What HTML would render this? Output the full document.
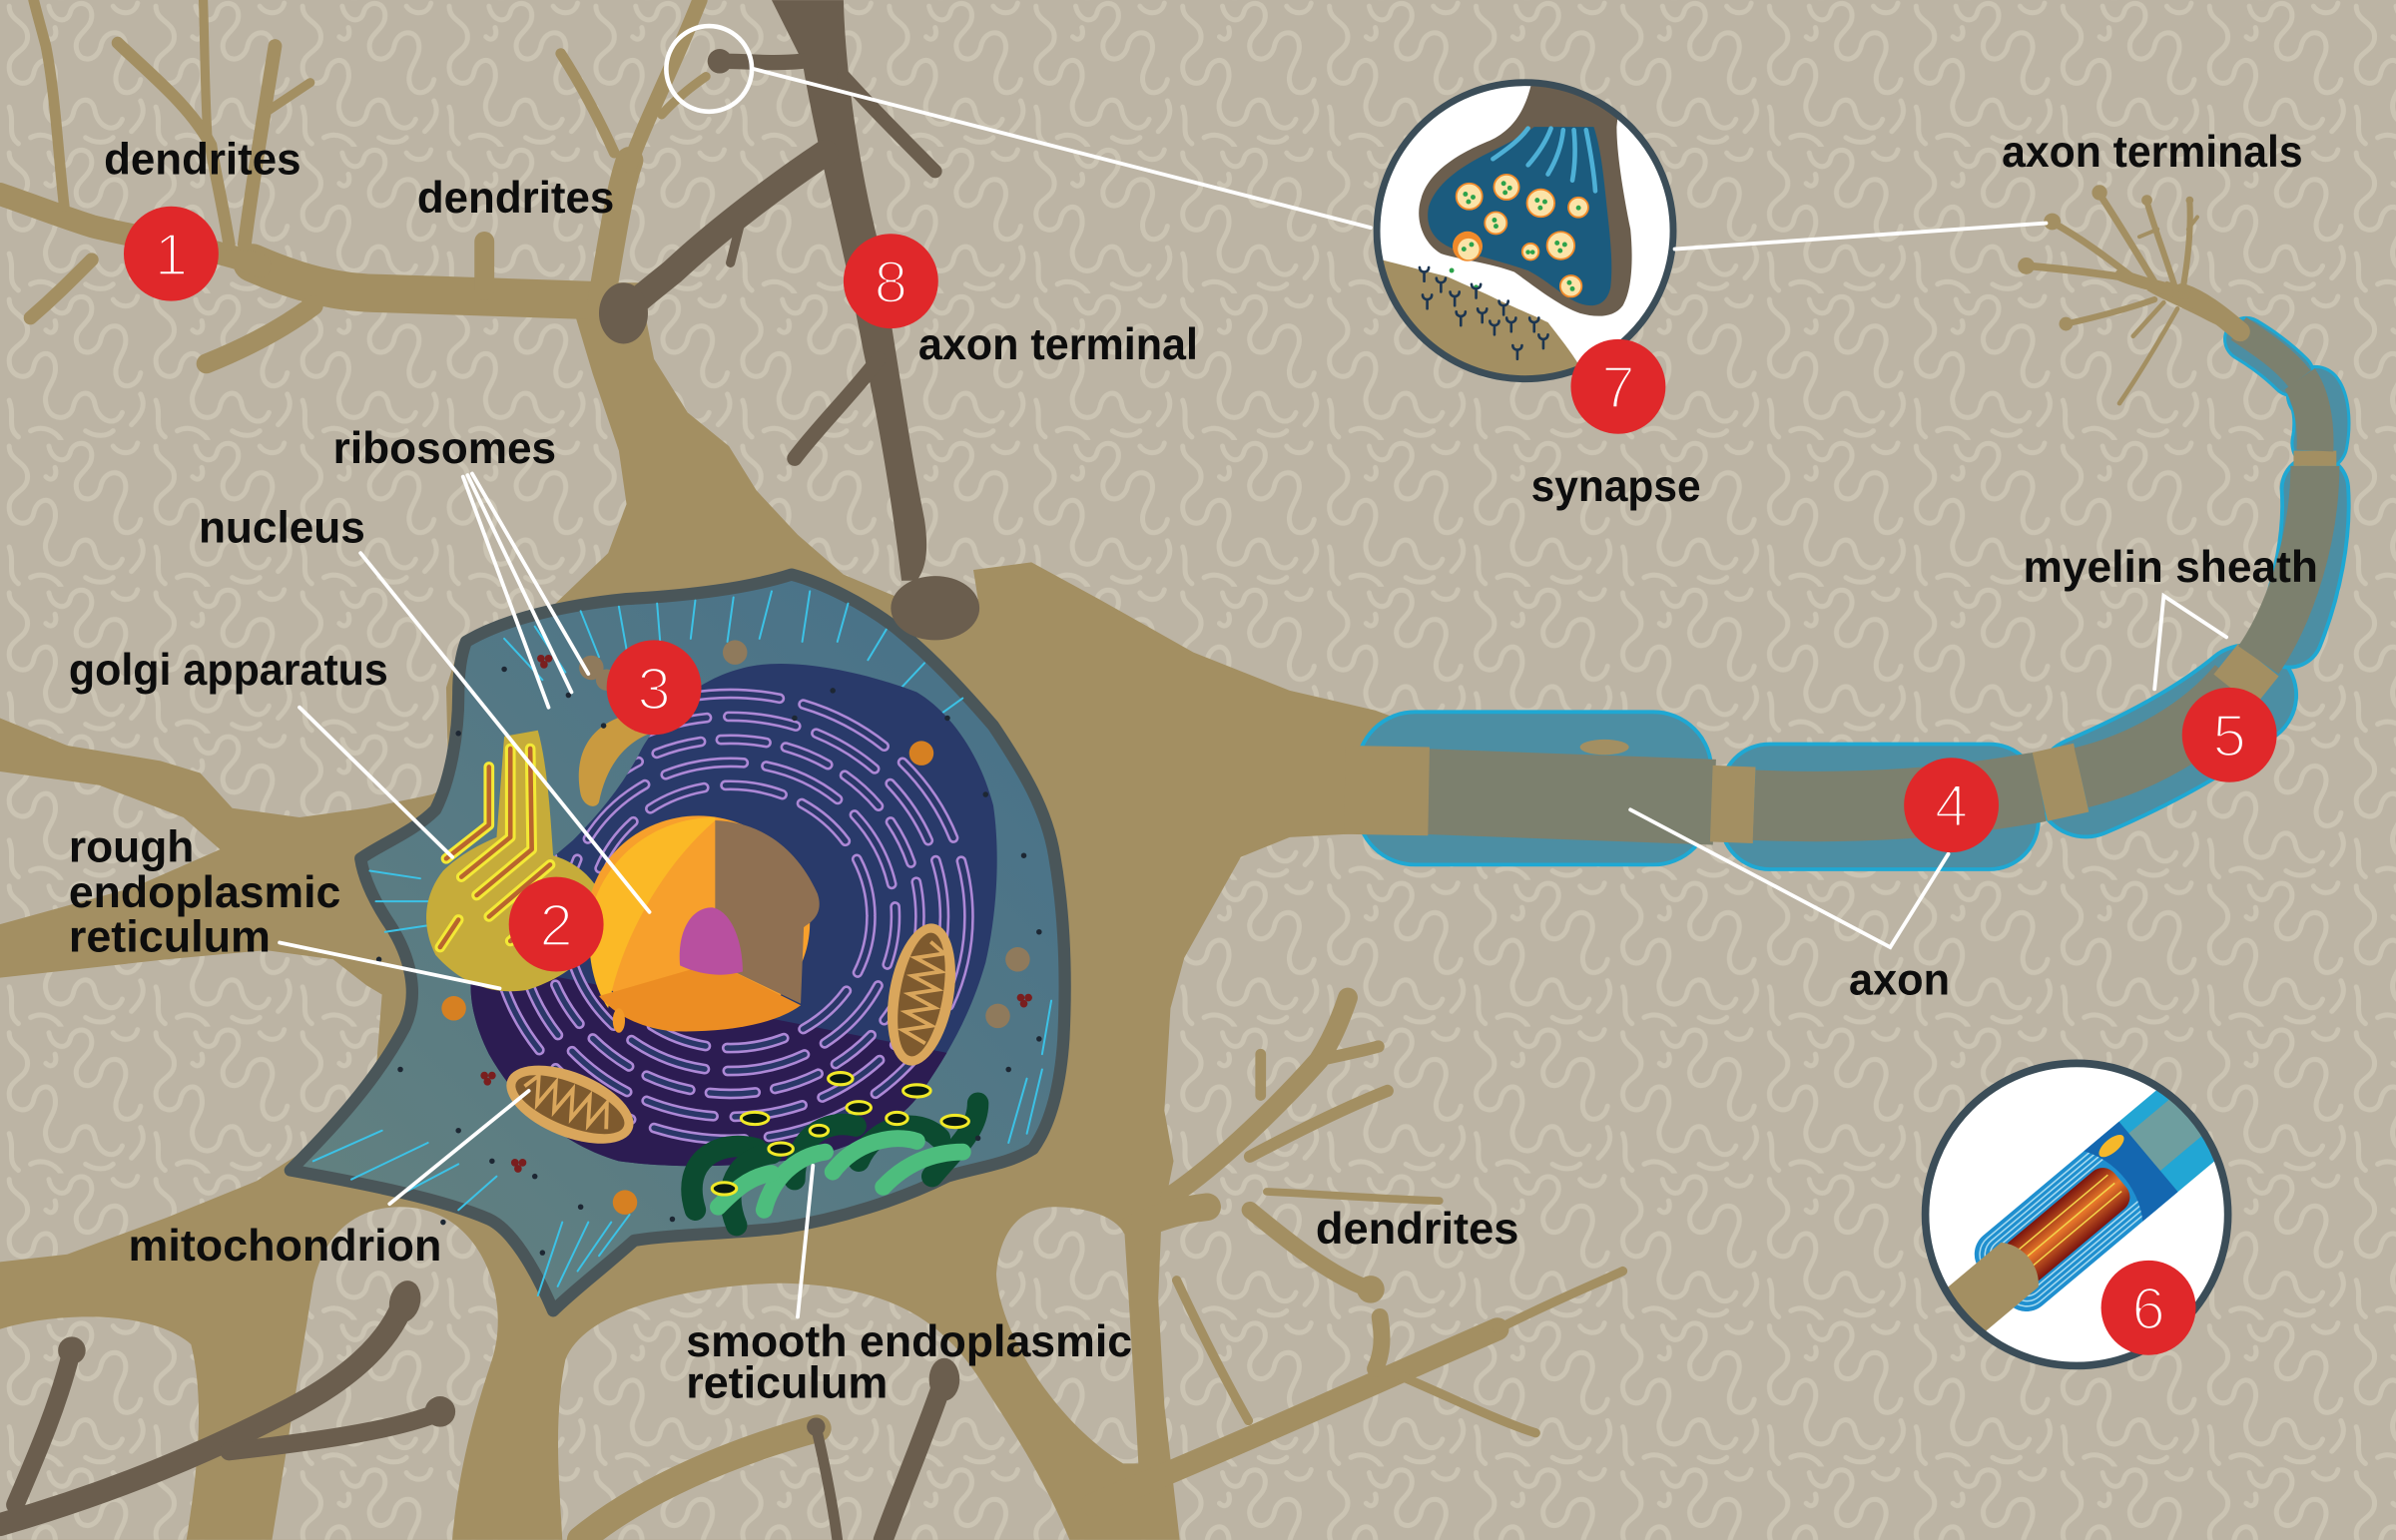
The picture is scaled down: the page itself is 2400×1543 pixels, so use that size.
<!DOCTYPE html>
<html><head><meta charset="utf-8"><style>
html,body{margin:0;padding:0;background:#bdb5a5;}
svg{display:block;}
text{font-family:"Liberation Sans",sans-serif;}
</style></head><body>
<svg width="2400" height="1543" viewBox="0 0 1568 1008" xmlns="http://www.w3.org/2000/svg">
<defs>
<pattern id="sq" width="96" height="96" patternUnits="userSpaceOnUse">
<rect width="96" height="96" fill="#bcb4a4"/>
<g fill="none" stroke="#cbc4b3" stroke-width="3.3" stroke-linecap="round">
<path d="M6,4 C6,14 18,14 18,24 C18,34 6,34 6,44 C6,56 20,58 22,48 C24,38 34,36 36,46 C38,58 28,62 30,72 C32,84 46,84 48,74 C50,64 60,62 62,72 C64,84 76,88 80,78"/>
<path d="M32,4 C34,14 44,16 46,8 C48,0 60,0 60,10 C60,20 48,22 50,32 C52,42 64,40 66,30 C68,20 80,18 82,28 C84,38 74,44 76,54 C78,64 90,62 92,52"/>
<path d="M74,4 C78,10 88,10 90,2"/>
<path d="M6,70 C10,80 4,88 12,94"/>
<path d="M20,90 C28,86 36,90 40,96"/>
<path d="M56,90 C62,94 70,94 74,90"/>
<path d="M86,86 C92,80 96,74 92,66"/>
<path d="M30,24 C34,28 38,24 36,18"/>
</g>
</pattern>
<linearGradient id="cellg" x1="1" y1="0" x2="0" y2="1">
<stop offset="0" stop-color="#45708a"/><stop offset="1" stop-color="#65827f"/>
</linearGradient>
<linearGradient id="redcore" x1="0" y1="0" x2="0" y2="1">
<stop offset="0" stop-color="#7a140e"/><stop offset="0.5" stop-color="#e8782a"/><stop offset="1" stop-color="#7a140e"/>
</linearGradient>
<path id="navy" d="M487,437 C515,430 560,438 600,453 C620,465 640,490 650,527 C655,560 652,600 645,630 C635,665 620,690 605,712 C590,735 560,752 525,758 C490,764 440,765 405,760 C370,750 340,725 320,690 C305,660 305,635 315,615 C325,595 345,575 375,550 C395,530 410,510 420,490 C435,465 455,445 487,437 Z"/>
<clipPath id="navyClip"><use href="#navy"/></clipPath>
<clipPath id="lowClip"><path d="M290,625 L650,695 L700,820 L290,820 Z"/></clipPath>
<clipPath id="c7"><circle cx="998" cy="151" r="97"/></clipPath>
<clipPath id="c6"><circle cx="1359" cy="795" r="99"/></clipPath>
</defs>

<rect width="1568" height="1008" fill="url(#sq)"/>

<!-- SOMA tan -->
<path fill="#a38f62" d="M370,185 L418,185 L428,235 L450,270 L477,292 L495,321 L522,350 L552,376 L590,392 L640,392 L637,373 L675,368 L719,392 L781,427 L844,452 L900,465 L935,478 L935,548 L900,545 L844,548 L812,561 L794,593 L775,627 L766,660 L762,727 L768,760 L760,800 L758,850 L762,920 L772,1008 L0,1008 L0,826 L44,821 L109,797 L168,773 L212,745 L246,702 L250,651 L240,645 L218,628 L174,622 L109,628 L0,640 L0,605 L87,581 L144,556 L120,535 L65,514 L0,505 L0,470 L44,488 L105,498 L131,506 L152,529 L196,535 L240,529 L283,520 L298,512 L293,490 L292,450 L300,425 L350,408 L398,362 L410,330 L405,295 L388,245 Z"/>

<!-- tan dendrites -->
<g fill="none" stroke="#a38f62" stroke-linecap="round" stroke-linejoin="round">
<path d="M400,197 C350,195 300,194 250,192 C220,192 195,185 165,172" stroke-width="25"/>
<path d="M170,174 C140,162 100,158 60,148 C35,140 15,132 0,127" stroke-width="15"/>
<path d="M317,190 L317,158" stroke-width="13"/>
<path d="M160,160 C165,120 172,80 180,30" stroke-width="9"/>
<path d="M176,72 L203,54" stroke-width="6"/>
<path d="M150,160 C145,130 140,110 138,95 C125,70 100,50 77,28" stroke-width="8"/>
<path d="M136,92 C134,60 134,30 133,0" stroke-width="6"/>
<path d="M42,135 C38,100 36,60 30,30 C26,15 24,8 22,0" stroke-width="7"/>
<path d="M60,170 C45,185 35,195 20,208" stroke-width="9"/>
<path d="M205,200 C185,215 160,228 135,238" stroke-width="13"/>
<path d="M393,200 C400,160 405,125 412,105" stroke-width="18"/>
<path d="M412,108 C422,80 440,45 458,0" stroke-width="10"/>
<path d="M402,100 C393,80 380,55 367,35" stroke-width="7"/>
<path d="M433,75 C445,62 455,55 462,50" stroke-width="6"/>
<path d="M766,783 C800,760 840,720 863,694 C872,680 878,665 882,653" stroke-width="13"/>
<path d="M863,694 C880,690 892,688 902,685" stroke-width="8"/>
<path d="M818,757 C850,740 880,725 908,714" stroke-width="8"/>
<path d="M829,780 C870,782 910,785 942,786" stroke-width="5"/>
<path d="M818,792 C840,810 870,835 897,844" stroke-width="11"/>
<path d="M825,717 L825,690" stroke-width="7"/>
<path d="M715,985 C800,950 900,905 980,870" stroke-width="15"/>
<path d="M980,870 C1020,850 1045,840 1062,832" stroke-width="6"/>
<path d="M900,896 C905,885 905,875 903,862" stroke-width="11"/>
<path d="M915,900 C950,915 980,930 1005,938" stroke-width="6"/>
<path d="M770,838 C785,870 800,900 817,930" stroke-width="6"/>
<path d="M790,790 C770,792 745,800 730,812" stroke-width="18"/>
</g>
<circle cx="897" cy="844" r="9" fill="#a38f62"/>

<!-- background holes -->
<g fill="url(#sq)">
<path d="M0,870 C40,858 100,858 125,880 C135,920 128,970 122,1008 L0,1008 Z"/>
<path d="M262,790 C232,790 212,808 205,840 L178,1008 L296,1008 C300,960 312,920 322,890 C335,850 315,790 262,790 Z"/>
<path d="M513,840 C470,840 385,852 370,890 C362,930 366,970 368,1008 L700,1008 C680,960 655,925 642,904 C620,870 590,842 513,840 Z"/>
<path d="M690,790 C668,790 654,806 652,834 C654,872 690,930 735,958 L745,958 C742,900 738,840 736,808 C730,795 708,790 690,790 Z"/>
</g>
<path d="M380,1008 C420,975 480,950 535,935" fill="none" stroke="#a38f62" stroke-width="18" stroke-linecap="round"/>

<!-- dark brown bottom -->
<g fill="none" stroke="#6b5e4e" stroke-linecap="round">
<path d="M265,850 C255,880 225,905 185,925 C140,948 80,975 0,998" stroke-width="15"/>
<path d="M286,925 C260,935 220,942 150,950" stroke-width="12"/>
<path d="M47,884 C38,920 25,950 10,985" stroke-width="12"/>
<path d="M618,902 C605,940 590,975 578,1008" stroke-width="13"/>
<path d="M534,934 C540,960 545,985 548,1008" stroke-width="7"/>
</g>
<g fill="#6b5e4e">
<ellipse cx="265" cy="852" rx="10" ry="14" transform="rotate(15 265 852)"/>
<circle cx="288" cy="924" r="10"/>
<circle cx="47" cy="884" r="9"/>
<ellipse cx="618" cy="903" rx="10" ry="14"/>
<circle cx="534" cy="934" r="6"/>
</g>

<!-- CELL interior -->
<path d="M305,420 C330,405 370,396 410,392 C450,390 490,385 518,376 C540,382 565,395 585,410 C610,430 630,452 650,475 C670,505 685,530 690,560 C697,600 698,640 696,680 C694,710 688,735 676,752 C660,762 640,764 620,770 C590,785 550,798 510,804 C470,808 440,808 415,812 C395,830 375,845 362,858 C350,830 335,805 320,798 C290,785 240,775 190,766 C212,744 245,710 265,672 C275,650 268,625 255,605 C245,590 238,575 236,562 C250,552 270,545 285,530 C295,510 300,480 300,455 C300,440 302,428 305,420 Z" fill="url(#cellg)" stroke="#4a5659" stroke-width="8" stroke-linejoin="round"/>

<!-- cyan lines -->
<g stroke="#3cc2e6" stroke-width="1.3" fill="none" stroke-linecap="round">
<path d="M330,418 L355,445"/><path d="M350,410 L370,440"/><path d="M380,400 L392,430"/><path d="M405,397 L410,425"/><path d="M430,395 L432,420"/><path d="M455,393 L452,418"/><path d="M480,391 L476,420"/><path d="M505,387 L497,418"/><path d="M530,387 L525,420"/><path d="M555,395 L548,420"/><path d="M580,412 L568,432"/><path d="M605,434 L590,450"/><path d="M630,457 L612,470"/>
<path d="M242,570 L275,575"/><path d="M246,590 L280,590"/><path d="M252,610 L285,605"/>
<path d="M205,760 L250,740"/><path d="M230,772 L280,748"/><path d="M262,782 L300,762"/><path d="M300,792 L325,770"/>
<path d="M352,848 L368,800"/><path d="M365,842 L385,800"/><path d="M378,832 L400,800"/><path d="M392,822 L412,795"/>
<path d="M672,742 L682,700"/><path d="M660,748 L672,706"/><path d="M682,690 L688,655"/>
</g>

<!-- navy ER region -->
<use href="#navy" fill="#293a6a"/>
<g clip-path="url(#navyClip)">
<rect x="290" y="600" width="420" height="220" fill="#2c1c52" clip-path="url(#lowClip)"/>
<g fill="none" stroke-linecap="round">
<g stroke="#ad88d6" stroke-width="7">
<ellipse cx="478" cy="600" rx="92" ry="86" stroke-dasharray="38 14"/>
<ellipse cx="478" cy="600" rx="108" ry="101" stroke-dasharray="52 15" stroke-dashoffset="20"/>
<ellipse cx="478" cy="600" rx="124" ry="116" stroke-dasharray="30 13"/>
<ellipse cx="478" cy="600" rx="140" ry="131" stroke-dasharray="45 14" stroke-dashoffset="12"/>
<ellipse cx="478" cy="600" rx="156" ry="146" stroke-dasharray="60 16"/>
</g>
<g stroke="#2a3768" stroke-width="3.6">
<ellipse cx="478" cy="600" rx="92" ry="86" stroke-dasharray="38 14"/>
<ellipse cx="478" cy="600" rx="108" ry="101" stroke-dasharray="52 15" stroke-dashoffset="20"/>
<ellipse cx="478" cy="600" rx="124" ry="116" stroke-dasharray="30 13"/>
<ellipse cx="478" cy="600" rx="140" ry="131" stroke-dasharray="45 14" stroke-dashoffset="12"/>
<ellipse cx="478" cy="600" rx="156" ry="146" stroke-dasharray="60 16"/>
</g>
</g>
</g>

<!-- golgi -->
<path d="M330,482 L352,478 C358,500 360,530 362,560 C380,565 395,580 398,600 C390,625 370,640 345,648 C320,652 300,642 285,625 C275,605 278,585 290,570 C300,560 315,552 325,548 Z" fill="#c6ac3a"/>
<g fill="none" stroke-linecap="round" stroke-linejoin="round">
<g stroke="#f3e936" stroke-width="7">
<path d="M334,490 L334,548 L302,574"/><path d="M347,490 L348,556 L312,586"/><path d="M320,502 L320,540 L292,562"/><path d="M360,566 L320,600"/><path d="M374,584 L334,616"/><path d="M300,602 L288,620"/>
</g>
<g stroke="#b8652e" stroke-width="3">
<path d="M334,490 L334,548 L302,574"/><path d="M347,490 L348,556 L312,586"/><path d="M320,502 L320,540 L292,562"/><path d="M360,566 L320,600"/><path d="M374,584 L334,616"/><path d="M300,602 L288,620"/>
</g>
</g>

<!-- orange crescent -->
<path d="M380,520 C375,495 385,475 410,468 C420,466 430,470 432,478 C415,482 398,495 392,525 C390,530 382,528 380,520 Z" fill="#c99a40"/>

<!-- nucleus -->
<ellipse cx="457" cy="604" rx="73" ry="70" fill="#f7a02c"/>
<path d="M468,535 C430,535 395,560 386,600 C384,625 388,645 398,660 C405,620 430,570 468,537 Z" fill="#fbb926"/>
<path d="M392,652 L468,630 L524,658 C505,672 470,676 440,675 C420,673 403,665 392,652 Z" fill="#ec8d23"/>
<path d="M468,537 C495,538 520,552 535,585 C540,600 528,605 526,607 L524,657 L468,630 Z" fill="#8f7052"/>
<path d="M445,632 C443,610 452,594 466,594 C478,596 486,615 486,636 C472,640 458,638 445,632 Z" fill="#b8509f"/>
<ellipse cx="405" cy="668" rx="4" ry="8" fill="#f29a28"/>

<!-- mitochondria -->
<g transform="translate(373,723) rotate(22)">
<ellipse rx="44" ry="21" fill="#d9a65c"/><ellipse rx="38" ry="14" fill="#7e5a2e"/>
<path d="M-32,0 L-26,-10 L-20,8 L-14,-10 L-8,8 L-2,-10 L4,8 L10,-10 L16,8 L22,-10 L28,6" fill="none" stroke="#d9a65c" stroke-width="2.5"/>
</g>
<g transform="translate(603,651) rotate(100)">
<ellipse rx="47" ry="21" fill="#d9a65c"/><ellipse rx="41" ry="14" fill="#7e5a2e"/>
<path d="M-35,0 L-29,-10 L-23,8 L-17,-10 L-11,8 L-5,-10 L1,8 L7,-10 L13,8 L19,-10 L25,8 L31,-8" fill="none" stroke="#d9a65c" stroke-width="2.5"/>
</g>

<!-- smooth ER -->
<g fill="none" stroke-linecap="round">
<g stroke="#0c4b30" stroke-width="14">
<path d="M455,792 C445,760 470,745 495,752"/><path d="M482,802 C472,778 482,758 505,755"/><path d="M520,772 C520,745 540,732 560,737"/><path d="M562,760 C572,737 600,730 615,745"/><path d="M610,770 C625,752 640,740 640,722"/>
</g>
<g stroke="#4dbd7d" stroke-width="11">
<path d="M500,792 C505,772 520,757 540,754"/><path d="M545,767 C560,747 585,742 600,747"/><path d="M578,777 C592,762 610,754 630,754"/><path d="M470,790 C480,780 490,770 505,768"/>
</g>
</g>
<g fill="#081a10" stroke="#f0e928" stroke-width="2">
<ellipse cx="550" cy="706" rx="8" ry="4"/><ellipse cx="600" cy="714" rx="9" ry="4"/><ellipse cx="625" cy="734" rx="9" ry="4"/><ellipse cx="587" cy="732" rx="7" ry="4"/><ellipse cx="562" cy="725" rx="8" ry="4"/><ellipse cx="536" cy="740" rx="6" ry="3.5"/><ellipse cx="511" cy="752" rx="8" ry="4"/><ellipse cx="494" cy="732" rx="9" ry="4"/><ellipse cx="474" cy="778" rx="8" ry="4"/>
</g>

<!-- spheres and dots -->
<g fill="#8f7a5c"><circle cx="387" cy="437" r="8"/><circle cx="397" cy="445" r="7"/><circle cx="481" cy="427" r="8"/><circle cx="666" cy="628" r="8"/><circle cx="653" cy="665" r="8"/></g>
<g fill="#d68022"><circle cx="603" cy="493" r="8"/><circle cx="297" cy="660" r="8"/><circle cx="409" cy="787" r="8"/></g>
<g fill="#7a1e1e"><circle cx="354" cy="431" r="2.5"/><circle cx="359" cy="431" r="2.5"/><circle cx="356" cy="435" r="2.5"/><circle cx="317" cy="704" r="2.5"/><circle cx="322" cy="704" r="2.5"/><circle cx="319" cy="708" r="2.5"/><circle cx="337" cy="761" r="2.5"/><circle cx="342" cy="761" r="2.5"/><circle cx="339" cy="765" r="2.5"/><circle cx="668" cy="653" r="2.5"/><circle cx="673" cy="653" r="2.5"/><circle cx="670" cy="657" r="2.5"/></g>
<g fill="#1d2733"><circle cx="330" cy="438" r="1.8"/><circle cx="372" cy="455" r="1.8"/><circle cx="300" cy="480" r="1.8"/><circle cx="248" cy="628" r="1.8"/><circle cx="262" cy="700" r="1.8"/><circle cx="300" cy="740" r="1.8"/><circle cx="290" cy="800" r="1.8"/><circle cx="355" cy="820" r="1.8"/><circle cx="380" cy="790" r="1.8"/><circle cx="440" cy="798" r="1.8"/><circle cx="620" cy="470" r="1.8"/><circle cx="645" cy="520" r="1.8"/><circle cx="670" cy="560" r="1.8"/><circle cx="680" cy="610" r="1.8"/><circle cx="660" cy="700" r="1.8"/><circle cx="640" cy="745" r="1.8"/><circle cx="545" cy="452" r="1.8"/><circle cx="520" cy="470" r="1.8"/><circle cx="350" cy="770" r="1.8"/><circle cx="322" cy="760" r="1.8"/><circle cx="680" cy="680" r="1.8"/><circle cx="395" cy="475" r="1.8"/></g>

<!-- dark brown top trunk -->
<path fill="#6b5e4e" d="M505,0 L552,0 C553,40 560,100 575,160 C588,240 595,290 605,340 C608,360 606,372 600,380 L590,380 C585,340 578,290 565,230 C552,160 535,100 525,40 Z"/>
<ellipse cx="612" cy="398" rx="29" ry="21" fill="#6b5e4e"/>
<g fill="none" stroke="#6b5e4e" stroke-linecap="round">
<path d="M540,100 C510,120 470,150 440,178 C425,190 415,198 408,205" stroke-width="17"/>
<path d="M486,140 L478,172" stroke-width="6"/>
<path d="M525,40 C505,42 490,40 475,40" stroke-width="10"/>
<path d="M552,50 C570,70 595,95 612,112" stroke-width="9"/>
<path d="M575,235 C560,255 535,280 520,300" stroke-width="10"/>
</g>
<ellipse cx="408" cy="205" rx="16" ry="20" fill="#6b5e4e"/>
<circle cx="471" cy="40" r="8" fill="#6b5e4e"/>

<!-- AXON -->
<g fill="#4c8ea3" stroke="#1fa8d3" stroke-width="2.5">
<rect x="888" y="466" width="232" height="100" rx="38"/>
<rect x="1126" y="487" width="208" height="82" rx="32"/>
</g>
<g fill="none" stroke-linecap="round">
<path d="M1365,515 C1400,500 1440,480 1470,455" stroke="#1fa8d3" stroke-width="68"/>
<path d="M1365,515 C1400,500 1440,480 1470,455" stroke="#4c8ea3" stroke-width="63"/>
<path d="M1498,415 C1510,385 1517,350 1515,320" stroke="#1fa8d3" stroke-width="46"/>
<path d="M1498,415 C1510,385 1517,350 1515,320" stroke="#4c8ea3" stroke-width="41"/>
<path d="M1518,290 C1520,280 1520,265 1515,258" stroke="#1fa8d3" stroke-width="38"/>
<path d="M1518,290 C1520,280 1520,265 1515,258" stroke="#4c8ea3" stroke-width="34"/>
<path d="M1500,245 C1490,235 1480,228 1470,222" stroke="#1fa8d3" stroke-width="30"/>
<path d="M1500,245 C1490,235 1480,228 1470,222" stroke="#4c8ea3" stroke-width="26"/>
</g>
<ellipse cx="1050" cy="489" rx="16" ry="5" fill="#a38f62"/>
<g fill="none">
<path d="M930,518 L1122,525" stroke="#7c806e" stroke-width="56"/>
<path d="M880,517 L935,518" stroke="#a38f62" stroke-width="58"/>
<path d="M1120,526 L1148,527" stroke="#a38f62" stroke-width="50"/>
<path d="M1148,527 C1220,530 1280,525 1335,515" stroke="#7c806e" stroke-width="46"/>
<path d="M1335,515 L1362,509" stroke="#a38f62" stroke-width="46"/>
<path d="M1362,509 C1400,500 1440,478 1465,448" stroke="#7c806e" stroke-width="40"/>
<path d="M1462,452 L1478,432" stroke="#a38f62" stroke-width="34"/>
<path d="M1478,432 C1500,400 1515,350 1515,305" stroke="#7c806e" stroke-width="32"/>
<path d="M1515,305 L1515,295" stroke="#a38f62" stroke-width="28"/>
<path d="M1515,295 C1516,275 1512,258 1505,248" stroke="#7c806e" stroke-width="24"/>
<path d="M1505,248 C1495,235 1480,225 1465,215" stroke="#7c806e" stroke-width="18"/>
</g>
<!-- axon terminals -->
<path d="M1470,222 L1458,208 C1445,198 1432,188 1418,184 L1405,190 C1415,196 1430,202 1445,210 Z" fill="#a38f62"/>
<g fill="none" stroke="#a38f62" stroke-linecap="round">
<path d="M1466,217 C1452,205 1440,196 1428,192" stroke-width="13"/>
<path d="M1430,192 C1415,188 1400,185 1388,180" stroke-width="8"/>
<path d="M1428,192 C1432,170 1434,150 1433,132" stroke-width="4"/>
<path d="M1424,190 C1418,170 1410,150 1405,132" stroke-width="4"/>
<path d="M1412,188 C1398,165 1386,145 1374,127" stroke-width="4.5"/>
<path d="M1400,183 C1375,179 1350,176 1328,174" stroke-width="5"/>
<path d="M1395,181 C1378,168 1362,156 1344,146" stroke-width="4.5"/>
<path d="M1410,196 C1390,203 1370,208 1352,212" stroke-width="4"/>
<path d="M1425,202 C1412,225 1400,245 1387,264" stroke-width="3"/>
<path d="M1416,198 L1396,220" stroke-width="3"/>
<path d="M1412,150 L1400,155" stroke-width="2.5"/>
<path d="M1432,150 L1438,142" stroke-width="2.5"/>
</g>
<g fill="#a38f62">
<circle cx="1433" cy="131" r="2.5"/><circle cx="1405" cy="131" r="3.5"/><circle cx="1374" cy="126" r="5"/><circle cx="1326" cy="174" r="5.5"/><circle cx="1343" cy="145" r="5.5"/><circle cx="1352" cy="212" r="4.5"/>
</g>

<!-- SYNAPSE INSET -->
<g clip-path="url(#c7)">
<circle cx="998" cy="151" r="97" fill="#fff"/>
<path d="M880,168 L904,170 C920,174 935,178 947,181 C960,187 970,191 980,196 C995,203 1005,207 1013,211 C1020,220 1028,230 1034,240 L1040,260 L880,260 Z" fill="#a38f62"/>
<path d="M1004,45 L1062,45 L1058,83 C1058,100 1062,125 1067,150 C1069,170 1068,190 1062,200 C1056,208 1045,208 1034,205 C1020,200 1005,188 991,178 C975,172 955,170 943,166 C930,158 926,142 930,130 C935,112 955,100 975,92 C990,85 1000,72 1004,45 Z" fill="#6b5e4e"/>
<path d="M1004,83 C995,90 980,97 970,102 C955,110 940,120 935,135 C932,150 940,160 955,164 C970,168 985,172 1000,177 C1015,185 1025,196 1035,199 C1045,202 1052,198 1054,188 C1056,170 1053,150 1051,130 C1049,110 1047,95 1043,83 Z" fill="#1b5b7e"/>
<g fill="none" stroke="#4eb0d6" stroke-width="3" stroke-linecap="round">
<path d="M977,104 C987,97 995,91 1000,84"/><path d="M1000,108 C1007,100 1012,92 1015,84"/><path d="M1013,114 C1019,104 1022,95 1023,85"/><path d="M1029,118 C1031,107 1031,95 1030,85"/><path d="M1044,125 C1043,110 1040,95 1038,85"/>
</g>
<g fill="#fbe3a8" stroke="#f08a2a" stroke-width="1.2">
<circle cx="961.5" cy="128.5" r="8.5"/><circle cx="985.9" cy="122.4" r="8.2"/><circle cx="1008.3" cy="132.9" r="9"/><circle cx="1032.9" cy="135.7" r="6.5"/><circle cx="978.9" cy="145.9" r="7.2"/><circle cx="1021.4" cy="160.7" r="9"/><circle cx="1001.6" cy="164.7" r="5.4"/><circle cx="1028.1" cy="187.3" r="7"/>
</g>
<circle cx="960.4" cy="161.2" r="9.8" fill="#f08a2a"/><circle cx="961" cy="163" r="7" fill="#fbe3a8"/>
<g fill="#2ca24a">
<circle cx="959" cy="127" r="1.6"/><circle cx="964" cy="129" r="1.6"/><circle cx="961" cy="132" r="1.6"/>
<circle cx="984" cy="120" r="1.6"/><circle cx="988" cy="123" r="1.6"/><circle cx="985" cy="126" r="1.6"/>
<circle cx="1006" cy="131" r="1.6"/><circle cx="1011" cy="132" r="1.6"/><circle cx="1008" cy="136" r="1.6"/>
<circle cx="1033" cy="136" r="1.6"/><circle cx="978" cy="144" r="1.6"/><circle cx="979" cy="148" r="1.6"/>
<circle cx="1019" cy="159" r="1.6"/><circle cx="1024" cy="160" r="1.6"/><circle cx="1021" cy="164" r="1.6"/>
<circle cx="1000" cy="165" r="1.5"/><circle cx="1003" cy="165" r="1.5"/><circle cx="1027" cy="185" r="1.6"/><circle cx="1029" cy="189" r="1.6"/>
<circle cx="958" cy="163" r="1.6"/><circle cx="963" cy="160" r="1.6"/><circle cx="950" cy="177" r="1.6"/><circle cx="966" cy="188" r="1.6"/>
</g>
<g fill="none" stroke="#1c3550" stroke-width="1.7" stroke-linecap="round">
<path d="M929,175 C929,179 935,179 935,175 M932,178 L932,184"/>
<path d="M940,182 C940,186 946,186 946,182 M943,185 L943,191"/>
<path d="M931,193 C931,197 937,197 937,193 M934,196 L934,202"/>
<path d="M949,191 C949,195 955,195 955,191 M952,194 L952,200"/>
<path d="M963,186 C963,190 969,190 969,186 M966,189 L966,195"/>
<path d="M953,204 C953,208 959,208 959,204 M956,207 L956,213"/>
<path d="M967,202 C967,206 973,206 973,202 M970,205 L970,211"/>
<path d="M981,197 C981,201 987,201 987,197 M984,200 L984,206"/>
<path d="M975,210 C975,214 981,214 981,210 M978,213 L978,219"/>
<path d="M986,208 C986,212 992,212 992,208 M989,211 L989,217"/>
<path d="M1001,208 C1001,212 1007,212 1007,208 M1004,211 L1004,217"/>
<path d="M1007,219 C1007,223 1013,223 1013,219 M1010,222 L1010,228"/>
<path d="M990,226 C990,230 996,230 996,226 M993,229 L993,235"/>
</g>
</g>
<circle cx="998" cy="151" r="97" fill="none" stroke="#3b4d58" stroke-width="4.5"/>

<!-- MYELIN INSET -->
<g clip-path="url(#c6)">
<circle cx="1359" cy="795" r="99" fill="#fff"/>
<g transform="translate(1262,878) rotate(-40)">
<rect x="172" y="-30" width="140" height="60" fill="#22a6d4"/>
<rect x="182" y="-20" width="130" height="32" fill="#6e9e9f"/>
<rect x="56" y="-30" width="130" height="60" rx="16" fill="#1f8fcf"/>
<g fill="none" stroke="#a6daf0" stroke-width="1">
<rect x="59" y="-27" width="124" height="54" rx="14"/><rect x="62" y="-24" width="118" height="48" rx="12"/><rect x="65" y="-21" width="112" height="42" rx="10"/><rect x="68" y="-18" width="106" height="36" rx="8"/>
</g>
<path d="M158,-30 L188,-30 L188,30 L158,30 C170,12 170,-12 158,-30 Z" fill="#1467b0"/>
<ellipse cx="174" cy="-21" rx="10" ry="4.5" fill="#f6b82a"/>
<rect x="72" y="-16" width="92" height="32" rx="10" fill="url(#redcore)"/>
<g stroke="#f3d34a" stroke-width="1"><path d="M80,-8 L160,-8"/><path d="M80,-1 L160,-1"/><path d="M80,6 L160,6"/></g>
<path d="M-40,-19 L78,-19 C88,-9 88,9 78,19 L-40,19 Z" fill="#a38f62"/>
</g>
</g>
<circle cx="1359" cy="795" r="99" fill="none" stroke="#3b4d58" stroke-width="5"/>

<!-- callout lines -->
<g fill="none" stroke="#fff" stroke-width="2.5" stroke-linecap="round" stroke-linejoin="miter">
<path d="M303,312 L359,463"/><path d="M306,311 L374,453"/><path d="M309,310 L385,441"/>
<path d="M236,362 L425,597"/>
<path d="M196,463 L296,561"/>
<path d="M183,617 L327,647"/>
<path d="M255,788 L346,714"/>
<path d="M522,862 L532,763"/>
<path d="M493,45 L897,149"/>
<path d="M1096,163 L1339,146"/>
<path d="M1067,530 L1237,620 L1275,559"/>
<path d="M1457,417 L1416,390 L1410,451"/>
</g>
<circle cx="464" cy="45" r="28" fill="none" stroke="#fff" stroke-width="3"/>

<!-- red number circles -->
<g fill="#e0282a">
<circle cx="112" cy="166" r="31"/><circle cx="583" cy="184" r="31"/><circle cx="428" cy="450" r="31"/><circle cx="364" cy="605" r="31"/><circle cx="1059" cy="253" r="31"/><circle cx="1277" cy="527" r="31"/><circle cx="1459" cy="481" r="31"/><circle cx="1406" cy="856" r="31"/>
</g>
<g fill="#fff" stroke="#e0282a" stroke-width="1.6" font-size="39" text-anchor="middle">
<text x="112" y="180">1</text><text x="583" y="198">8</text><text x="428" y="464">3</text><text x="364" y="619">2</text><text x="1059" y="267">7</text><text x="1277" y="541">4</text><text x="1459" y="495">5</text><text x="1406" y="870">6</text>
</g>

<!-- labels -->
<g fill="#0d0d0d" font-size="29" font-weight="bold">
<text x="68" y="114" textLength="129" lengthAdjust="spacingAndGlyphs">dendrites</text>
<text x="273" y="139" textLength="129" lengthAdjust="spacingAndGlyphs">dendrites</text>
<text x="218" y="303" textLength="146" lengthAdjust="spacingAndGlyphs">ribosomes</text>
<text x="130" y="355" textLength="109" lengthAdjust="spacingAndGlyphs">nucleus</text>
<text x="45" y="448" textLength="209" lengthAdjust="spacingAndGlyphs">golgi apparatus</text>
<text x="45" y="564" textLength="82" lengthAdjust="spacingAndGlyphs">rough</text>
<text x="45" y="594" textLength="178" lengthAdjust="spacingAndGlyphs">endoplasmic</text>
<text x="45" y="623" textLength="132" lengthAdjust="spacingAndGlyphs">reticulum</text>
<text x="84" y="825" textLength="205" lengthAdjust="spacingAndGlyphs">mitochondrion</text>
<text x="449" y="888" textLength="292" lengthAdjust="spacingAndGlyphs">smooth endoplasmic</text>
<text x="449" y="915" textLength="132" lengthAdjust="spacingAndGlyphs">reticulum</text>
<text x="861" y="814" textLength="133" lengthAdjust="spacingAndGlyphs">dendrites</text>
<text x="601" y="235" textLength="183" lengthAdjust="spacingAndGlyphs">axon terminal</text>
<text x="1002" y="328" textLength="111" lengthAdjust="spacingAndGlyphs">synapse</text>
<text x="1310" y="109" textLength="197" lengthAdjust="spacingAndGlyphs">axon terminals</text>
<text x="1324" y="381" textLength="193" lengthAdjust="spacingAndGlyphs">myelin sheath</text>
<text x="1210" y="651" textLength="66" lengthAdjust="spacingAndGlyphs">axon</text>
</g>
</svg>
</body></html>
